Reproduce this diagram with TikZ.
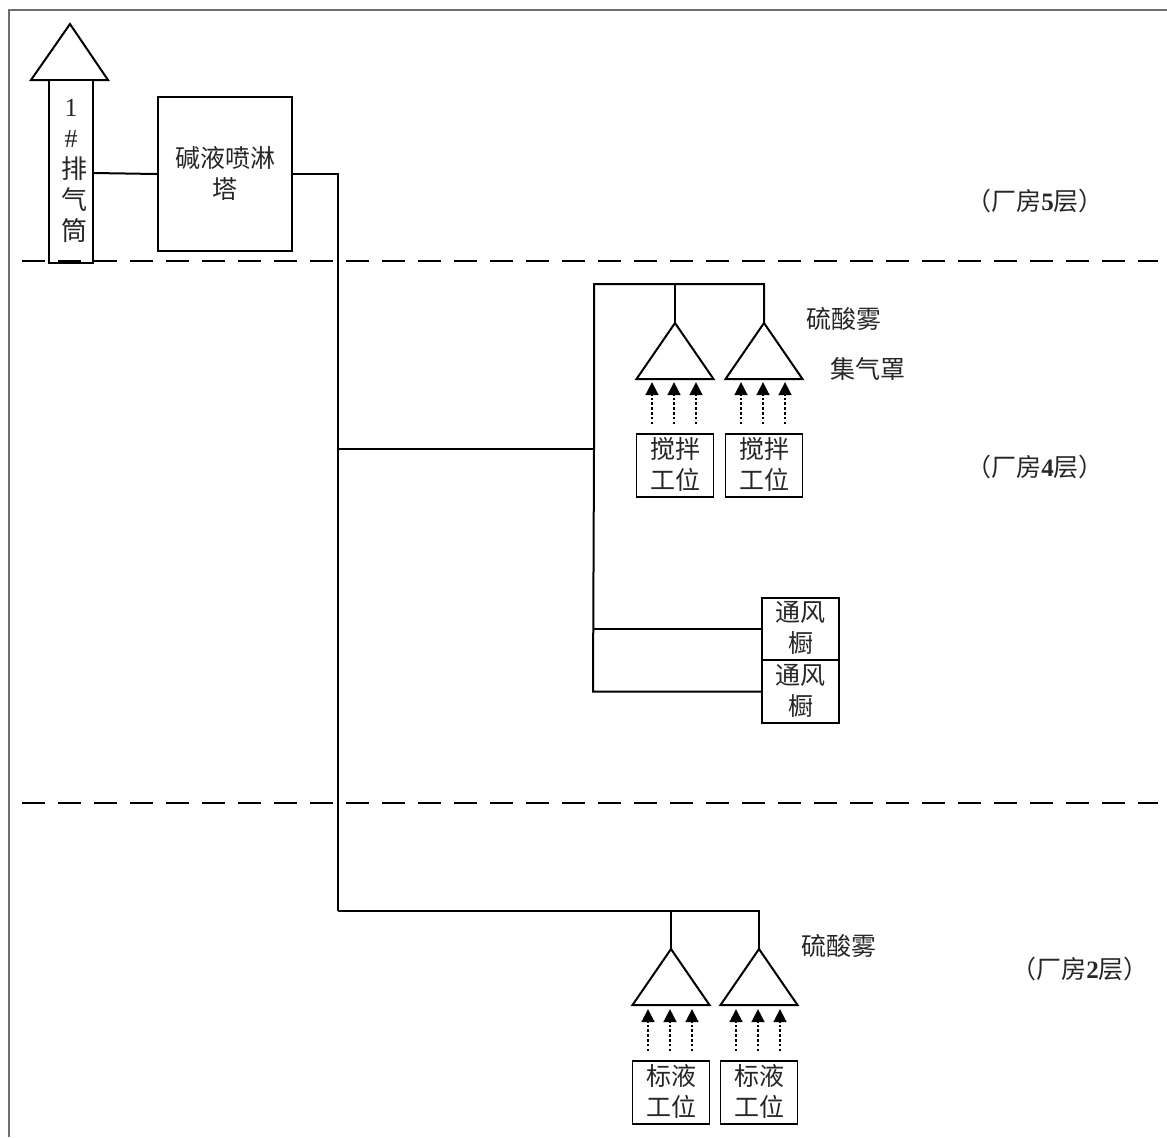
\documentclass[tikz,border=0pt]{standalone}
\usepackage{fontspec}
\setmainfont{Liberation Serif}
\newfontfamily\cjk{Noto Sans CJK SC}
\usetikzlibrary{arrows.meta}
\usetikzlibrary{calc}
\definecolor{frameline}{HTML}{6E6E6E}
\definecolor{inktext}{HTML}{262626}
\tikzset{
  % A plain box with black outline; the argument is its width
  unitbox/.style={
    draw=black, fill=white, line width=0.9pt, rectangle, align=center, text=inktext,
    font=\cjk\fontsize{12.5}{15.5}\selectfont, inner sep=0pt, minimum width=#1},
  % Ducts between the units
  duct/.style={draw=black, line width=1pt},
  % Rising fumes
  fume/.style={-{Triangle[length=6.5pt,width=6.5pt]}, draw=black, line width=0.8pt, dash pattern=on 1.3pt off 1.1pt},
  % Floor dividers
  floorline/.style={draw=black, line width=0.8pt, dash pattern=on 11.5pt off 6.5pt},
  lbl/.style={font=\cjk\fontsize{12.5}{15.5}\selectfont, text=inktext, inner sep=0pt},
}
\newcommand{\hood}[3]{%
  \coordinate (#3) at (#1,#2);
  \draw[duct] (#3) -- ++(38.5,56) -- ++(-77,0) -- cycle;}
\newcommand{\fumes}[1]{%
  \draw[fume] ($(#1.north)+(-23,-9)$) -- ++(0,-42);
  \draw[fume] ($(#1.north)+(-1,-9)$) -- ++(0,-42);
  \draw[fume] ($(#1.north)+(21,-9)$) -- ++(0,-42);}
\newcommand{\floorlbl}[1]{（厂房{\rmfamily\bfseries #1}层）}
% lifts the lines of a box a little
\newcommand{\lineup}{\\[-13.5pt]}
% one glyph of the stack, a little to the right
\newcommand{\stackchar}[1]{\hspace{3.5pt}{\cjk #1}}

\begin{document}
\begin{tikzpicture}[x=0.5pt,y=-0.5pt]
  \useasboundingbox (0,0) rectangle (1167,1137);

  \draw[frameline, line width=1pt] (9,1137) -- (9,10) -- (1167,10);

  \draw[duct] (70,24) -- (108,80) -- (31,80) -- cycle;
  \node[unitbox=22pt, minimum height=91.5pt, font=\fontsize{13}{15.5}\selectfont] (stack) at (71,171.5)
    {1\\\#\\\stackchar{排}\\\stackchar{气}\\\stackchar{筒}\lineup};
  \node[unitbox=67pt, minimum height=77pt] (tower) at (225,174) {碱液喷淋\\塔\lineup};
  \draw[duct] ($(stack.east)+(0,1.5)$) -- (tower.west);

  % roof level
  \draw[floorline] (22,261) -- (1158,261);
  \draw[floorline] (22,803) -- (1158,803);

  % level 4
  \node[unitbox=38.5pt, minimum height=31.5pt] (mixa) at (675,465.5) {搅拌\\工位\lineup};
  \node[unitbox=38.5pt, minimum height=31.5pt] (mixb) at (764,465.5) {搅拌\\工位\lineup};
  \node[unitbox=38.5pt, minimum height=31pt] (venta) at (800.5,629) {通风\\橱\lineup};
  \node[unitbox=38.5pt, minimum height=31.5pt] (ventb) at (800.5,691.5) {通风\\橱\lineup};
  \hood{675}{323}{hooda}
  \hood{764}{323}{hoodb}
  \fumes{mixa}
  \fumes{mixb}

  % level 2
  \node[unitbox=38.5pt, minimum height=31.5pt] (stda) at (671,1092.5) {标液\\工位\lineup};
  \node[unitbox=38.5pt, minimum height=31.5pt] (stdb) at (759,1092.5) {标液\\工位\lineup};
  \hood{671}{949}{hoodc}
  \hood{759}{949}{hoodd}
  \fumes{stda}
  \fumes{stdb}

  % ducts
  \coordinate (trunk) at (338,911);
  \coordinate (riser) at (594,284);
  \coordinate (rise4) at (594,449);
  \coordinate (foot) at (593,691.5);
  \draw[duct] (tower.east) -| (trunk);
  \draw[duct] (338,449) -- (rise4);
  \draw[duct] (hoodb) |- (riser) -- (rise4) -- (foot) -- (ventb.west);
  \draw[duct] (hooda) -- (hooda |- riser);
  \draw[duct] (rise4 |- venta.west) -- (venta.west);
  \draw[duct] (trunk) -| (hoodd);
  \draw[duct] (hoodc) -- (hoodc |- trunk);

  \node[lbl] (acida) at (844,319) {硫酸雾};
  \node[lbl] (cap) at (868,369) {集气罩};
  \node[lbl] (acidb) at (839,946) {硫酸雾};
  \node[lbl] (floorfive) at (1035,201) {\floorlbl{5}};
  \node[lbl] (floorfour) at (1035,467) {\floorlbl{4}};
  \node[lbl] (floortwo) at (1080,969) {\floorlbl{2}};

\end{tikzpicture}
\end{document}
